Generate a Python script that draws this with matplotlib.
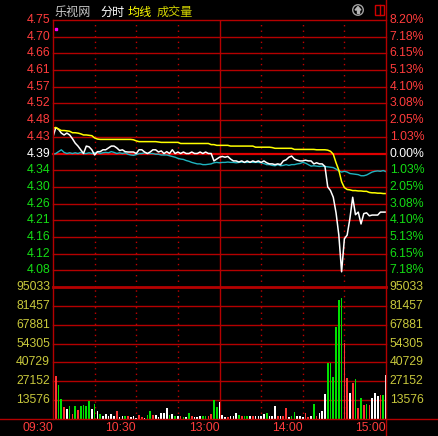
import matplotlib
matplotlib.use('Agg')
import matplotlib.pyplot as plt
from matplotlib.lines import Line2D
from matplotlib.patches import Circle, Rectangle, Polygon

plt.rcParams['font.family'] = ['Liberation Sans', 'Noto Sans CJK SC', 'DejaVu Sans']

W, H = 438, 436

# ---- data ----
prev_close = 4.39
price_labels = ['4.75', '4.70', '4.66', '4.61', '4.57', '4.52', '4.48', '4.43', '4.39',
                '4.34', '4.30', '4.26', '4.21', '4.16', '4.12', '4.08']
pct_labels = ['8.20%', '7.18%', '6.15%', '5.13%', '4.10%', '3.08%', '2.05%', '1.03%', '0.00%',
              '1.03%', '2.05%', '3.08%', '4.10%', '5.13%', '6.15%', '7.18%']
vol_labels = [95033, 81457, 67881, 54305, 40729, 27152, 13576]
time_labels = ['09:30', '10:30', '13:00', '14:00', '15:00']
time_pos = [0, 60, 120, 180, 240]

# one sample every 2 minutes, 240 trading minutes
minutes = list(range(0, 241, 2))

price = [4.435, 4.460, 4.455, 4.445, 4.440, 4.445, 4.440, 4.430, 4.418, 4.410,
         4.400, 4.390, 4.410, 4.408, 4.400, 4.386, 4.395, 4.395, 4.400, 4.400,
         4.405, 4.410, 4.410, 4.405, 4.398, 4.400, 4.395, 4.394, 4.394, 4.394,
         4.390, 4.400, 4.400, 4.394, 4.390, 4.394, 4.400, 4.400, 4.394, 4.397,
         4.390, 4.395, 4.390, 4.400, 4.390, 4.394, 4.390, 4.394, 4.390, 4.390,
         4.394, 4.390, 4.390, 4.394, 4.390, 4.394, 4.390, 4.390, 4.370, 4.375,
         4.380, 4.382, 4.380, 4.382, 4.375, 4.370, 4.370, 4.367, 4.370, 4.366,
         4.370, 4.366, 4.370, 4.367, 4.370, 4.366, 4.370, 4.365, 4.362, 4.362,
         4.360, 4.362, 4.360, 4.370, 4.373, 4.380, 4.383, 4.375, 4.372, 4.370,
         4.370, 4.372, 4.370, 4.370, 4.362, 4.365, 4.362, 4.362, 4.355, 4.300,
         4.290, 4.272, 4.230, 4.170, 4.071, 4.160, 4.170, 4.215, 4.272, 4.225,
         4.232, 4.200, 4.228, 4.230, 4.222, 4.224, 4.224, 4.224, 4.232, 4.232,
         4.232]

avg_price = [4.458, 4.460, 4.456, 4.452, 4.452, 4.451, 4.450, 4.446, 4.446, 4.445,
             4.443, 4.440, 4.440, 4.439, 4.438, 4.432, 4.429, 4.428, 4.428, 4.428,
             4.428, 4.428, 4.428, 4.428, 4.428, 4.428, 4.428, 4.428, 4.428, 4.427,
             4.424, 4.422, 4.422, 4.422, 4.422, 4.422, 4.422, 4.422, 4.421, 4.420,
             4.420, 4.420, 4.420, 4.420, 4.420, 4.420, 4.417, 4.417, 4.417, 4.417,
             4.417, 4.417, 4.417, 4.417, 4.417, 4.417, 4.417, 4.414, 4.414, 4.412,
             4.412, 4.412, 4.412, 4.412, 4.410, 4.410, 4.410, 4.410, 4.410, 4.410,
             4.410, 4.410, 4.410, 4.407, 4.407, 4.407, 4.407, 4.407, 4.407, 4.406,
             4.404, 4.404, 4.404, 4.404, 4.404, 4.404, 4.404, 4.401, 4.401, 4.401,
             4.401, 4.401, 4.401, 4.401, 4.401, 4.400, 4.400, 4.400, 4.400, 4.399,
             4.396, 4.388, 4.365, 4.345, 4.314, 4.298, 4.293, 4.292, 4.290, 4.290,
             4.289, 4.289, 4.288, 4.288, 4.285, 4.284, 4.284, 4.283, 4.283, 4.282,
             4.282]

index_line = [4.388, 4.390, 4.395, 4.400, 4.393, 4.390, 4.392, 4.390, 4.392, 4.390,
              4.393, 4.390, 4.390, 4.392, 4.390, 4.392, 4.393, 4.390, 4.392, 4.393,
              4.392, 4.395, 4.393, 4.390, 4.392, 4.390, 4.392, 4.388, 4.386, 4.385,
              4.387, 4.390, 4.390, 4.392, 4.390, 4.390, 4.390, 4.388, 4.388, 4.386,
              4.386, 4.386, 4.384, 4.382, 4.380, 4.377, 4.375, 4.374, 4.371, 4.369,
              4.366, 4.364, 4.362, 4.362, 4.360, 4.360, 4.361, 4.362, 4.365, 4.366,
              4.365, 4.366, 4.366, 4.367, 4.366, 4.366, 4.365, 4.366, 4.367, 4.366,
              4.366, 4.367, 4.366, 4.366, 4.366, 4.365, 4.363, 4.360, 4.360, 4.358,
              4.357, 4.360, 4.357, 4.358, 4.360, 4.358, 4.360, 4.360, 4.362, 4.363,
              4.366, 4.364, 4.360, 4.356, 4.357, 4.356, 4.355, 4.356, 4.355, 4.354,
              4.353, 4.352, 4.348, 4.343, 4.340, 4.342, 4.340, 4.336, 4.335, 4.334,
              4.333, 4.330, 4.330, 4.332, 4.336, 4.340, 4.342, 4.343, 4.342, 4.344,
              4.341]

volume = [22500, 31000, 24500, 14400, 8900, 7000, 9000, 3500, 9000, 6500,
          9000, 10000, 9000, 13000, 7000, 10800, 6000, 3500, 2000, 3500,
          2000, 3500, 2000, 5500, 1500, 2000, 2000, 2000, 1500, 2000,
          1000, 3000, 1500, 1000, 3000, 5500, 3000, 3000, 1500, 4500,
          4000, 8200, 3000, 3500, 2000, 2000, 2500, 1500, 1500, 4500,
          2500, 1500, 1500, 2000, 2500, 2500, 2000, 3500, 13700, 8400,
          12500, 3000, 1500, 1500, 2000, 2000, 4000, 2900, 2500, 2000,
          2000, 2000, 2000, 2500, 2500, 2000, 3500, 4000, 2500, 2500,
          9400, 2500, 2500, 2000, 8200, 1500, 2000, 5300, 2500, 2000,
          1500, 4500, 1500, 2500, 10800, 2500, 4000, 6000, 18000, 40500,
          40000, 30500, 66000, 85700, 86900, 54500, 29300, 18500, 25700, 28600,
          7700, 14900, 10100, 10600, 10000, 14900, 18500, 16600, 17300, 17300,
          31700]

# r = up tick, g = down tick, w = unchanged
bar_dir = ('rrggrwgrgr' 'ggggwgwgww' 'wwwrwwgrww' 'wrrwggrwww' 'wwgwgwrgwg'
           'rwwwggrrgg' 'wwwrwwwgrg' 'gwrwwwwgww' 'wrwrrwggww' 'wrrwgrwwwg'
           'gggggrrwrg' 'rgrgrwwwrg' 'w')

# ---- colours ----
BG = '#000000'
GRID = '#b40000'
RED = '#ff3c3c'
GREEN = '#14dc14'
VOLC = '#c8c83c'
bar_colors = {'r': '#ff3232', 'g': '#00e000', 'w': '#ffffff'}


def fx(px):
    return px / W


def fy(py):
    return 1 - py / H


fig = plt.figure(figsize=(W / 100, H / 100), dpi=100, facecolor=BG)

L, R, T, MID, B = 53, 386, 20, 287, 419
ax_p = fig.add_axes([fx(L), fy(MID), (R - L) / W, (MID - T) / H])
ax_v = fig.add_axes([fx(L), fy(B), (R - L) / W, (B - MID) / H])

lo = prev_close * (1 - 0.082)
hi = prev_close * (1 + 0.082)
step = (hi - lo) / 16

for ax in (ax_p, ax_v):
    ax.set_facecolor(BG)
    ax.set_xlim(0, 240)
    ax.axis('off')
    for m in (30, 60, 90, 150, 180, 210):
        ax.axvline(m, color='#c00000', lw=1, ls=(0, (1, 3)), zorder=1)
    ax.axvline(120, color=GRID, lw=1, zorder=1)

ax_p.set_ylim(lo, hi)
ax_v.set_ylim(0, vol_labels[0])

# price grid + labels
for k, lab in enumerate(price_labels):
    level = hi - k * step
    if k == 8:
        ax_p.axhline(level, color='#e00000', lw=1.6, zorder=1, clip_on=False)
        col = '#ffffff'
    else:
        ax_p.axhline(level, color=GRID, lw=1, zorder=1, clip_on=False)
        col = RED if k < 8 else GREEN
    ax_p.text(-0.009, level, lab, transform=ax_p.get_yaxis_transform(),
              ha='right', va='center', color=col, fontsize=8.8, clip_on=False)
    ax_p.text(1.011, level, pct_labels[k], transform=ax_p.get_yaxis_transform(),
              ha='left', va='center', color=col, fontsize=8.8, clip_on=False)

# volume grid + labels
for k, v in enumerate(vol_labels):
    ax_v.axhline(v, color=GRID, lw=2 if k == 0 else 1, zorder=1, clip_on=False)
    for xa, ha in ((-0.009, 'right'), (1.011, 'left')):
        ax_v.text(xa, v, str(v), transform=ax_v.get_yaxis_transform(),
                  ha=ha, va='center', color=VOLC, fontsize=8.8, clip_on=False)

# lines
ax_p.plot(minutes, index_line, color='#1fb4c0', lw=1.0, zorder=3)
ax_p.plot(minutes, price, color='#ffffff', lw=1.1, zorder=4)
ax_p.plot(minutes, avg_price, color='#ffff00', lw=1.1, zorder=5)

# volume bars
ax_v.bar(minutes, volume, width=1.2, color=[bar_colors[d] for d in bar_dir],
         linewidth=0, zorder=3)

# time labels
for pos, lab in zip(time_pos, time_labels):
    ax_v.text(pos, -0.066, lab, transform=ax_v.get_xaxis_transform(),
              ha='right', va='center', color=RED, fontsize=8.8, clip_on=False)

# frame
def fig_line(x0, y0, x1, y1, lw=1, color=GRID):
    fig.add_artist(Line2D([fx(x0), fx(x1)], [fy(y0), fy(y1)],
                          transform=fig.transFigure, color=color, lw=lw))

fig_line(L, T, L, B)
fig_line(R, 0, R, H)
fig_line(0, B, W, B)

# header
cjk = ['Noto Sans CJK SC', 'DejaVu Sans']
fig.text(fx(55), fy(12), '乐视网', color='#c8c8c8', fontsize=8.7, family=cjk, va='center')
fig.text(fx(100), fy(12), '分时', color='#ffffff', fontsize=8.7, family=cjk, va='center')
fig.text(fx(128), fy(12), '均线', color='#ffff00', fontsize=8.7, family=cjk, va='center')
fig.text(fx(157), fy(12), '成交量', color='#d2d200', fontsize=8.7, family=cjk, va='center')

# header icons
fig.add_artist(Circle((fx(358), fy(10)), 5.3 / W, transform=fig.transFigure,
                      fill=False, edgecolor='#a0a0a0', lw=1))
fig.add_artist(Polygon([(fx(355), fy(10)), (fx(358), fy(6.5)), (fx(361), fy(10))],
                       closed=True, transform=fig.transFigure, color='#b4b4b4'))
fig.add_artist(Rectangle((fx(357.2), fy(13)), 1.6 / W, 3 / H, transform=fig.transFigure,
                         color='#b4b4b4'))
fig.add_artist(Rectangle((fx(375), fy(15)), 8.5 / W, 10 / H, transform=fig.transFigure,
                         fill=False, edgecolor='#d00000', lw=1))
fig_line(380, 5, 380, 15, color='#d00000')
fig.add_artist(Rectangle((fx(55), fy(30)), 2 / W, 2 / H, transform=fig.transFigure,
                         color='#ff00ff'))

fig.savefig('out.png', dpi=100, facecolor=BG)
